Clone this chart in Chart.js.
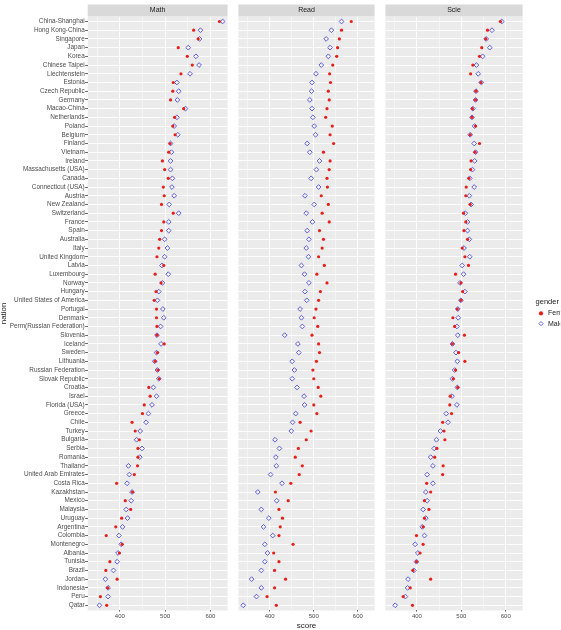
<!DOCTYPE html>
<html><head><meta charset="utf-8">
<script src="https://cdn.jsdelivr.net/npm/chart.js@4"></script>
<style>
html,body{margin:0;padding:0;background:#fff;overflow:hidden;width:561px;height:630px;}
canvas{position:absolute;top:0;}
</style></head><body>
<canvas id="c1" width="231" height="630" style="left:0px"></canvas>
<canvas id="c2" width="143" height="630" style="left:235px"></canvas>
<canvas id="c3" width="144" height="630" style="left:382px"></canvas>
<canvas id="c4" width="60" height="628" style="left:526px"></canvas>
<script>
const nations = ['China-Shanghai','Hong Kong-China','Singapore','Japan','Korea','Chinese Taipei','Liechtenstein','Estonia','Czech Republic','Germany','Macao-China','Netherlands','Poland','Belgium','Finland','Vietnam','Ireland','Massachusetts (USA)','Canada','Connecticut (USA)','Austria','New Zealand','Switzerland','France','Spain','Australia','Italy','United Kingdom','Latvia','Luxembourg','Norway','Hungary','United States of America','Portugal','Denmark','Perm(Russian Federation)','Slovenia','Iceland','Sweden','Lithuania','Russian Federation','Slovak Republic','Croatia','Israel','Florida (USA)','Greece','Chile','Turkey','Bulgaria','Serbia','Romania','Thailand','United Arab Emirates','Costa Rica','Kazakhstan','Mexico','Malaysia','Uruguay','Argentina','Colombia','Montenegro','Albania','Tunisia','Brazil','Jordan','Indonesia','Peru','Qatar'];

const mathFemale = [620,563,573,529,549,560,535,518,517,512,541,521,517,522,511,508,494,499,507,496,498,492,518,497,492,488,486,482,497,478,491,480,476,481,481,482,482,498,483,478,484,487,464,467,454,450,427,434,443,440,440,439,432,393,428,412,424,404,391,370,405,399,378,369,394,373,357,371];
const mathMale = [627,578,576,551,568,575,555,526,530,527,545,526,520,528,512,514,512,512,516,515,520,509,530,508,508,499,505,499,493,507,494,486,483,495,497,490,482,491,481,477,483,486,474,481,471,463,458,445,437,449,444,419,421,416,427,425,414,417,406,398,403,396,394,386,368,374,374,355];
const readFemale = [585,563,558,554,552,543,536,538,533,535,530,527,542,537,545,522,537,535,530,531,517,533,519,535,513,522,519,511,524,507,530,515,511,505,501,509,496,511,513,506,498,500,510,516,500,507,469,494,483,465,458,474,467,448,413,442,421,429,424,421,453,409,421,411,436,411,394,415];
const readMale = [563,540,528,537,533,517,505,496,495,491,496,498,501,504,485,491,513,506,494,511,480,501,483,497,485,489,483,488,472,479,489,480,484,469,472,474,434,464,466,451,456,451,462,478,479,459,452,449,412,422,414,415,402,428,373,416,381,398,386,407,389,395,389,381,359,381,370,340];
const scieFemale = [588,559,555,546,541,526,521,544,533,532,525,524,532,520,541,531,522,521,517,511,510,520,505,510,506,514,502,508,516,487,499,503,499,491,481,485,507,480,494,508,487,482,492,475,474,478,458,461,463,445,440,459,458,422,431,417,427,417,414,399,414,407,399,391,431,385,369,390];
const scieMale = [591,569,556,564,548,534,538,545,533,532,526,524,530,520,529,532,530,525,519,529,518,522,509,514,514,518,506,519,502,505,497,508,499,492,493,490,492,480,488,491,485,480,491,479,490,466,470,453,444,439,431,436,423,436,420,423,414,420,412,417,396,402,399,393,380,379,374,351];

const subjects = ['Math','Read','Scie'];
const seriesNames = ['Female','Male'];
const xGridTicks = [350,400,450,500,550,600];
const xMajorTicks = [400,500,600];
const xRange = [329,638];

const RED = '#e8201c';
const BLUE = '#6060d8';

Chart.defaults.font.family = "'Liberation Sans', Arial, sans-serif";
Chart.defaults.animation = false;

function femaleDs(data){
  return {label: seriesNames[0], data: data, showLine: false, pointStyle: 'circle', pointRadius: 1.6, pointHoverRadius: 1.6,
    pointBackgroundColor: RED, pointBorderColor: RED, pointBorderWidth: 0, borderColor: RED, backgroundColor: RED};
}
function maleDs(data){
  return {label: seriesNames[1], data: data, showLine: false, pointStyle: 'rectRot', pointRadius: 2.4, pointHoverRadius: 2.4,
    pointBackgroundColor: 'rgba(0,0,0,0)', pointBorderColor: BLUE, pointBorderWidth: 1, borderColor: BLUE, backgroundColor: 'rgba(0,0,0,0)'};
}

const panelBg = {
  id: 'panelBg',
  beforeDraw(chart){
    const a = chart.chartArea; const ctx = chart.ctx;
    const pad = (a.bottom - a.top) / nations.length * 0.1;
    ctx.save();
    ctx.fillStyle = '#ebebeb';
    ctx.fillRect(a.left, a.top - pad, a.right - a.left, a.bottom - a.top + 2 * pad);
    ctx.fillStyle = '#d9d9d9';
    ctx.fillRect(a.left, 4.5, a.right - a.left, a.top - pad - 4.5);
    ctx.restore();
  }
};

function makePanel(id, subject, female, male, first, showXTitle){
  return new Chart(document.getElementById(id), {
    type: 'line',
    data: {labels: nations, datasets: [femaleDs(female), maleDs(male)]},
    plugins: [panelBg],
    options: {
      responsive: false, indexAxis: 'y', events: [],
      layout: {padding: 0},
      plugins: {
        legend: {display: false}, tooltip: {enabled: false},
        title: {display: true, text: subject, fullSize: false, color: '#1a1a1a',
          font: {size: 7, weight: 'normal', lineHeight: 1.2}, padding: {top: 6.2, bottom: 2.54}}
      },
      scales: {
        y: {
          type: 'category', offset: true,
          grid: {offset: false, color: '#ffffff', lineWidth: 0.9, drawTicks: first, tickLength: 2.6, tickColor: '#444444', tickWidth: 0.8},
          border: {display: false},
          ticks: {display: first, autoSkip: false, font: {size: 6.4}, color: '#4d4d4d', padding: 0.4},
          title: {display: first, text: 'nation', color: '#1a1a1a', font: {size: 8, lineHeight: 0.9}, padding: 0},
          afterFit: s => { s.width = first ? 87.7 : 0; }
        },
        x: {
          type: 'linear', min: xRange[0], max: xRange[1], bounds: 'data',
          afterBuildTicks: s => { s.ticks = xGridTicks.map(v => ({value: v})); },
          grid: {color: '#ffffff',
            lineWidth: c => (c.tick && xMajorTicks.includes(c.tick.value)) ? 0.9 : 0.45,
            drawTicks: true, tickLength: 2,
            tickColor: c => (c.tick && xMajorTicks.includes(c.tick.value)) ? '#444444' : 'rgba(0,0,0,0)',
            tickWidth: 0.8},
          border: {display: false},
          ticks: {autoSkip: false, maxRotation: 0, minRotation: 0, font: {size: 6}, color: '#4d4d4d', padding: 1.5,
            callback: v => xMajorTicks.includes(v) ? String(v) : ''},
          title: {display: showXTitle, text: 'score', color: '#1a1a1a', font: {size: 8, lineHeight: 1}, padding: 0},
          afterFit: s => { s.height = 20.36; }
        }
      }
    }
  });
}

makePanel('c1', subjects[0], mathFemale, mathMale, true, false);
makePanel('c2', subjects[1], readFemale, readMale, false, true);
makePanel('c3', subjects[2], scieFemale, scieMale, false, false);

new Chart(document.getElementById('c4'), {
  type: 'line',
  data: {labels: [], datasets: [femaleDs([]), maleDs([])]},
  options: {
    responsive: false, events: [],
    layout: {padding: {left: 8.3}},
    scales: {x: {display: false}, y: {display: false}},
    plugins: {
      tooltip: {enabled: false},
      legend: {display: true, position: 'left', align: 'center',
        title: {display: true, text: 'gender', color: '#1a1a1a', font: {size: 7.5, lineHeight: 1.2}, padding: 0},
        labels: {usePointStyle: true, boxHeight: 3, padding: 3.2, color: '#1a1a1a', font: {size: 7}}
      }
    }
  }
});
</script>
</body></html>
